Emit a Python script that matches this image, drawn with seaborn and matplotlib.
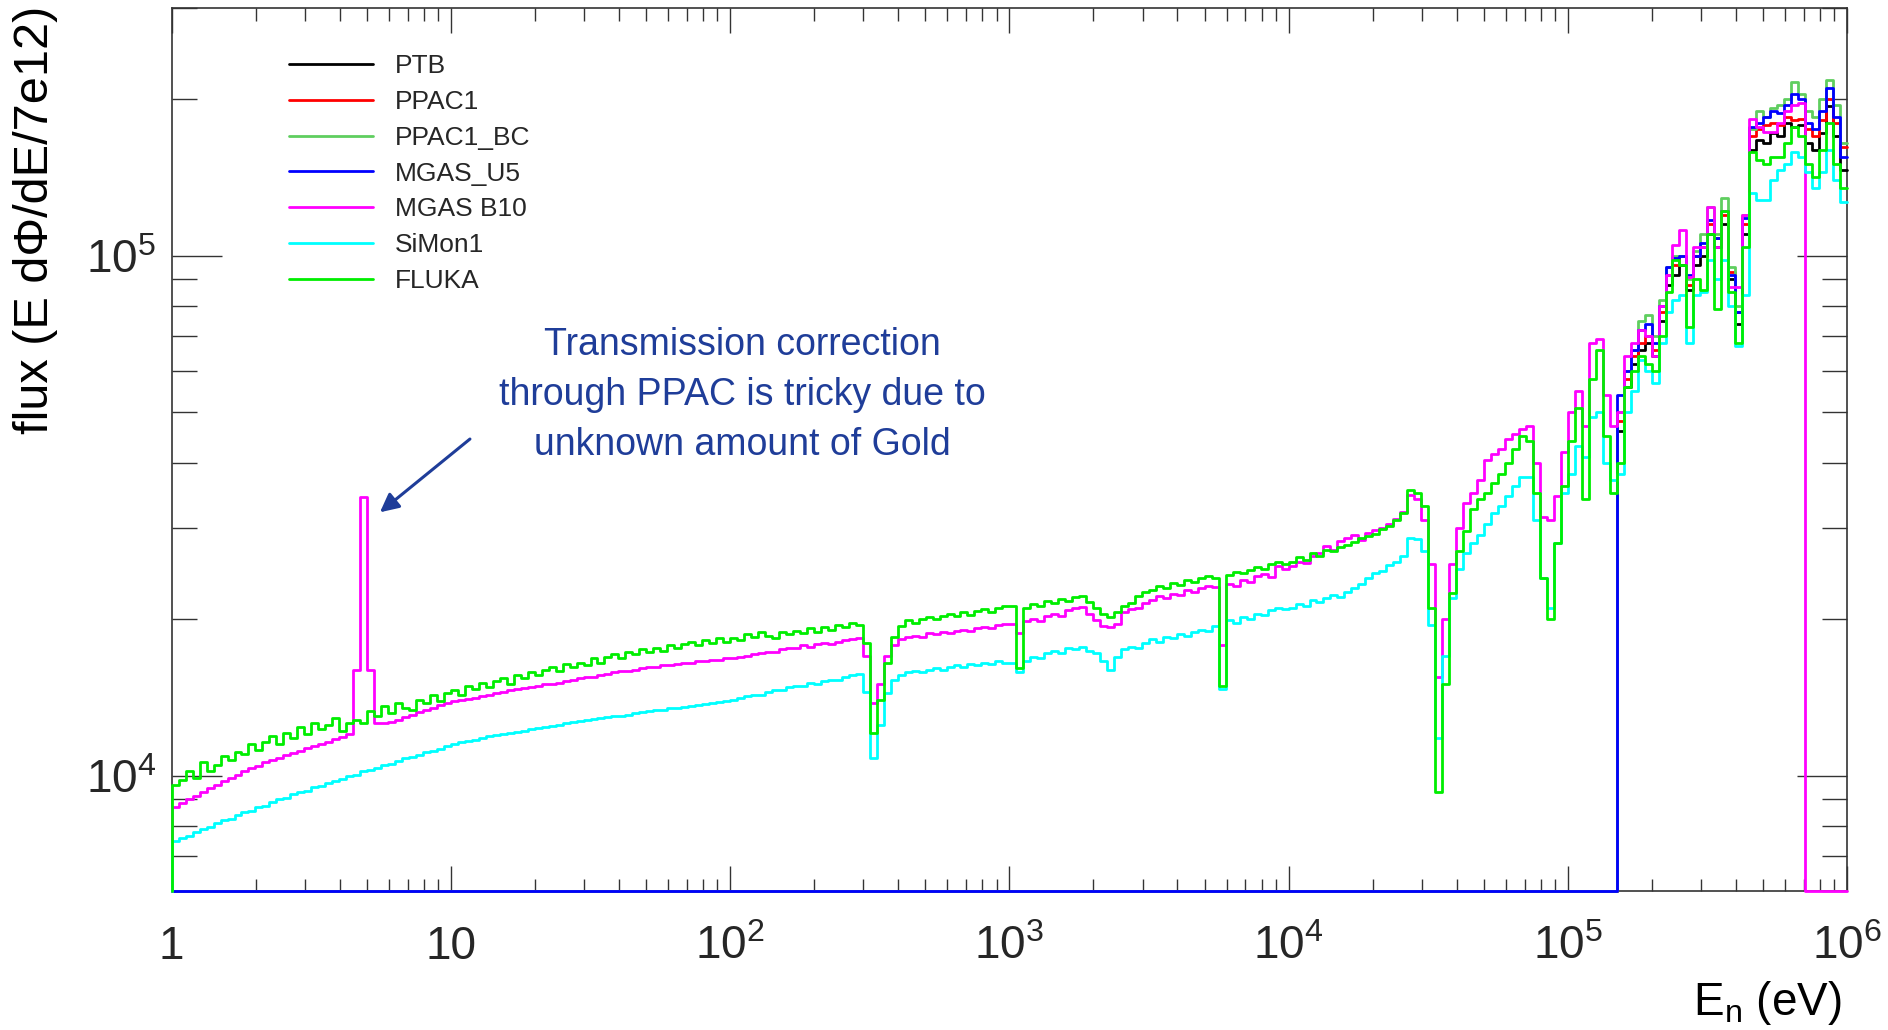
import numpy as np
import pandas as pd
import matplotlib
matplotlib.use("Agg")
import matplotlib.pyplot as plt
from matplotlib.lines import Line2D
from matplotlib.ticker import LogLocator, NullFormatter
import seaborn as sns

# ------------------------------------------------------------------
# Data: flux (E dPhi/dE / 7e12) in units of 1e3, histogram with
# 40 logarithmic bins per decade from 1 eV to 1 MeV (240 bins)
# ------------------------------------------------------------------
energy_min_eV = 1.0
energy_max_eV = 1.0e6
bins_per_decade = 40
flux_unit = 1.0e3

fluka = [
    9.6, 9.8, 10.2, 9.9, 10.6, 10.2, 10.5, 10.9, 10.7, 11.1,
    11.0, 11.5, 11.2, 11.6, 11.9, 11.5, 12.1, 11.8, 12.4, 12.0,
    12.6, 12.3, 12.5, 12.9, 12.2, 12.6, 12.8, 12.6, 13.3, 13.0,
    13.6, 13.2, 13.8, 13.5, 13.4, 14.0, 13.8, 14.3, 13.9, 14.4,
    14.6, 14.3, 14.9, 14.7, 15.1, 14.8, 15.2, 15.4, 15.0, 15.6,
    15.4, 15.8, 15.6, 16.0, 16.2, 15.9, 16.4, 16.2, 16.5, 16.3,
    16.8, 16.5, 16.9, 17.1, 16.8, 17.3, 17.1, 17.5, 17.3, 17.6,
    17.4, 17.8, 17.6, 17.9, 18.1, 17.8, 18.2, 18.0, 18.4, 18.1,
    18.4, 18.2, 18.7, 18.5, 18.9, 18.6, 18.4, 18.9, 18.7, 19.0,
    18.8, 19.2, 18.9, 19.3, 19.1, 19.5, 19.3, 19.7, 19.5, 18.0,
    12.1, 14.0, 16.5, 18.5, 19.4, 19.9, 19.7, 20.0, 20.2, 20.0,
    20.3, 20.5, 20.3, 20.6, 20.4, 20.7, 20.9, 20.6, 21.0, 21.2,
    21.2, 16.1, 21.0, 21.4, 21.2, 21.7, 21.5, 21.9, 21.7, 22.1,
    22.2, 21.6, 21.0, 20.5, 20.2, 20.6, 21.2, 21.5, 22.2, 22.6,
    22.8, 23.2, 23.0, 23.5, 23.3, 23.8, 23.6, 24.0, 24.2, 24.0,
    14.9, 24.3, 24.6, 24.5, 24.9, 25.2, 25.0, 25.5, 25.7, 25.5,
    25.8, 26.3, 26.0, 26.8, 26.5, 27.2, 27.0, 27.5, 27.8, 28.2,
    28.6, 28.9, 29.2, 29.8, 30.2, 31.0, 32.0, 35.5, 35.0, 33.0,
    21.0, 9.3, 15.0, 22.5, 27.0, 29.5, 32.5, 34.0, 35.0, 36.5,
    38.0, 40.0, 42.5, 45.0, 44.0, 35.0, 24.0, 20.0, 28.0, 36.0,
    44, 51, 34, 58, 66, 45, 35, 40, 56, 60,
    64, 62, 60, 70, 85, 98, 96, 73, 90, 86,
    110, 79, 122, 85, 68, 104, 158, 153, 150, 155,
    155, 165, 177, 170, 150, 142, 160, 180, 150, 135,
]

mgas_b10 = [
    8.7, 8.85, 9.0, 9.15, 9.3, 9.45, 9.6, 9.75, 9.9, 10.05,
    10.2, 10.35, 10.45, 10.6, 10.7, 10.8, 10.95, 11.05, 11.15, 11.3,
    11.4, 11.5, 11.6, 11.75, 11.85, 12.0, 16.0, 34.3, 16.0, 12.6,
    12.6, 12.7, 12.8, 12.95, 13.1, 13.25, 13.4, 13.5, 13.65, 13.8,
    13.9, 14.0, 14.05, 14.1, 14.2, 14.3, 14.4, 14.5, 14.6, 14.7,
    14.75, 14.8, 14.9, 15.0, 15.0, 15.1, 15.2, 15.3, 15.4, 15.5,
    15.5, 15.6, 15.7, 15.8, 15.9, 15.9, 16.0, 16.1, 16.2, 16.2,
    16.3, 16.3, 16.4, 16.5, 16.5, 16.6, 16.6, 16.7, 16.7, 16.8,
    16.8, 16.9, 17.0, 17.1, 17.2, 17.3, 17.3, 17.5, 17.6, 17.6,
    17.8, 17.7, 17.9, 18.0, 17.9, 18.1, 18.2, 18.3, 18.4, 17.0,
    13.8, 15.0, 17.0, 17.8, 18.3, 18.5, 18.6, 18.5, 18.8, 18.7,
    18.9, 18.8, 19.0, 19.1, 19.0, 19.2, 19.3, 19.2, 19.5, 19.6,
    19.6, 18.8, 19.8, 20.0, 19.8, 20.3, 20.5, 20.3, 20.8, 21.0,
    21.1, 20.5, 19.9, 19.4, 19.3, 19.6, 20.6, 20.9, 21.0, 21.5,
    21.8, 22.2, 22.0, 22.4, 22.3, 22.8, 22.6, 23.0, 23.2, 23.1,
    17.8, 23.4, 23.2, 23.8, 23.6, 24.2, 24.4, 24.1, 25.3, 25.0,
    25.3, 25.8, 25.6, 26.5, 26.8, 27.6, 27.2, 28.3, 28.6, 29.0,
    28.4, 29.3, 29.7, 30.0, 30.5, 31.2, 32.2, 34.6, 34.0, 31.0,
    25.5, 15.5, 20.0, 25.5, 30.0, 33.5, 35.0, 37.0, 40.5, 41.5,
    42.5, 44.5, 45.5, 46.5, 47.0, 40.0, 31.5, 31.0, 34.5, 42.0,
    50, 55, 47, 68, 69, 54, 47, 50, 64, 68,
    72, 70, 64, 80, 92, 105, 112, 91, 104, 104,
    124, 104, 122, 87, 87, 120, 183, 177, 173, 173,
    180, 190, 195, 197, 0, 0, 0, 0, 0, 0,
]

simon1 = [
    7.5, 7.6, 7.65, 7.8, 7.9, 7.95, 8.1, 8.2, 8.25, 8.4,
    8.5, 8.55, 8.7, 8.75, 8.9, 9.0, 9.05, 9.2, 9.3, 9.35,
    9.5, 9.55, 9.7, 9.75, 9.85, 10.0, 10.05, 10.2, 10.25, 10.35,
    10.5, 10.55, 10.65, 10.8, 10.85, 10.95, 11.1, 11.15, 11.25, 11.4,
    11.5, 11.6, 11.65, 11.7, 11.8, 11.9, 11.95, 12.05, 12.1, 12.15,
    12.2, 12.3, 12.35, 12.4, 12.45, 12.5, 12.6, 12.7, 12.75, 12.8,
    12.85, 12.9, 12.95, 13.0, 13.05, 13.1, 13.2, 13.25, 13.3, 13.35,
    13.4, 13.5, 13.5, 13.55, 13.6, 13.7, 13.75, 13.8, 13.85, 13.9,
    14.0, 14.1, 14.2, 14.3, 14.3, 14.5, 14.6, 14.6, 14.8, 14.9,
    14.9, 15.1, 15.0, 15.2, 15.3, 15.3, 15.5, 15.6, 15.7, 14.5,
    10.8, 12.5, 14.4, 15.3, 15.6, 15.8, 15.9, 15.8, 16.0, 16.1,
    16.0, 16.2, 16.3, 16.2, 16.4, 16.3, 16.5, 16.4, 16.6, 16.5,
    16.5, 15.8, 16.6, 16.9, 16.8, 17.2, 17.4, 17.2, 17.6, 17.5,
    17.7, 17.4, 17.2, 16.6, 16.0, 16.9, 17.5, 17.7, 17.6, 18.0,
    18.3, 18.1, 18.5, 18.4, 18.7, 18.6, 18.9, 19.1, 19.0, 19.4,
    14.7, 19.9, 19.7, 20.2, 20.0, 20.5, 20.4, 20.8, 21.0, 20.9,
    21.0, 21.4, 21.2, 21.8, 21.6, 22.0, 22.3, 22.1, 22.6, 23.0,
    23.4, 24.0, 24.5, 24.8, 25.4, 25.8, 26.5, 28.6, 28.5, 27.0,
    19.5, 11.8, 17.0, 22.0, 25.0, 26.8, 28.0, 29.0, 30.5, 32.0,
    33.0, 34.5, 36.0, 37.5, 37.5, 31.0, 24.0, 21.0, 28.0, 35.0,
    38, 43, 41, 49, 50, 40, 37, 38, 50, 55,
    63, 60, 57, 68, 78, 82, 84, 68, 84, 85,
    98, 90, 98, 80, 67, 84, 132, 128, 128, 140,
    146, 150, 158, 155, 145, 135, 145, 160, 140, 127,
]

# detectors that only measure above ~1.5e5 eV (last 33 bins, zero below)
ptb_hi = [46, 56, 62, 66, 68, 64, 75, 88, 92, 96, 86, 96, 100, 110, 104, 115, 90,
          74, 110, 160, 167, 165, 172, 170, 180, 177, 178, 165, 160, 172, 194, 170, 146]
ppac1_hi = [48, 58, 64, 68, 70, 66, 78, 92, 96, 100, 88, 100, 104, 115, 108, 120, 93,
            78, 115, 170, 175, 178, 180, 178, 185, 182, 183, 175, 170, 182, 200, 180, 162]
ppac1_bc_hi = [50, 60, 66, 75, 77, 70, 82, 95, 100, 100, 90, 102, 110, 124, 110, 129, 95,
               80, 120, 175, 190, 185, 192, 195, 200, 216, 205, 190, 185, 200, 218, 195, 165]
mgas_u5_hi = [54, 60, 66, 72, 74, 68, 80, 95, 99, 100, 92, 100, 106, 117, 108, 122, 92,
              78, 118, 177, 180, 185, 190, 188, 195, 205, 200, 180, 175, 190, 210, 185, 155]

series_labels = ["PTB", "PPAC1", "PPAC1_BC", "MGAS_U5", "MGAS B10", "SiMon1", "FLUKA"]
series_colors = ["#000000", "#ff0000", "#5fce5f", "#0000ff", "#ff00ff", "#00ffff", "#00ee00"]

x_tick_values = [1, 10, 1e2, 1e3, 1e4, 1e5, 1e6]
x_tick_labels = ["1", "10", r"$10^{2}$", r"$10^{3}$", r"$10^{4}$", r"$10^{5}$", r"$10^{6}$"]
y_tick_values = [1e4, 1e5]
y_tick_labels = [r"$10^{4}$", r"$10^{5}$"]
y_limits = (6.0e3, 3.0e5)

annotation_text = "Transmission correction\nthrough PPAC is tricky due to\nunknown amount of Gold"
annotation_color = "#1f3d99"

# ------------------------------------------------------------------
sns.set_theme(style="ticks")
plt.rcParams["font.family"] = ["Liberation Sans", "DejaVu Sans"]
plt.rcParams["mathtext.fontset"] = "custom"
plt.rcParams["mathtext.rm"] = "Liberation Sans"
plt.rcParams["mathtext.it"] = "Liberation Sans:italic"
plt.rcParams["mathtext.bf"] = "Liberation Sans:bold"
plt.rcParams["mathtext.default"] = "regular"

n_bins = len(fluka)
edges = np.logspace(np.log10(energy_min_eV), np.log10(energy_max_eV), n_bins + 1)


def pad_low(hi):
    return [0.0] * (n_bins - len(hi)) + list(hi)


series_values = [pad_low(ptb_hi), pad_low(ppac1_hi), pad_low(ppac1_bc_hi),
                 pad_low(mgas_u5_hi), mgas_b10, simon1, fluka]

rows = []
for label, vals in zip(series_labels, series_values):
    v = np.maximum(np.asarray(vals, dtype=float) * flux_unit, y_limits[0])
    xs = np.concatenate([[edges[0]], edges])
    ys = np.concatenate([[y_limits[0]], v, [v[-1]]])
    for i, (x, y) in enumerate(zip(xs, ys)):
        rows.append({"E": x, "flux": y, "detector": label, "order": i})
df = pd.DataFrame(rows)

fig = plt.figure(figsize=(18.88, 10.30), dpi=100)
ax = fig.add_axes([0.09094, 0.13495, 0.88734, 0.85767])

for z, (label, color) in enumerate(zip(series_labels, series_colors)):
    sub = df[df["detector"] == label].sort_values("order")
    sns.lineplot(data=sub, x="E", y="flux", ax=ax, color=color, linewidth=2.0,
                 drawstyle="steps-post", estimator=None, sort=False, legend=False,
                 clip_on=False, zorder=3 + z)

ax.set_xscale("log")
ax.set_yscale("log")
ax.set_xlim(energy_min_eV, energy_max_eV)
ax.set_ylim(*y_limits)

ax.set_xticks(x_tick_values, labels=x_tick_labels)
ax.set_yticks(y_tick_values, labels=y_tick_labels)
ax.xaxis.set_minor_locator(LogLocator(base=10, subs=np.arange(2, 10), numticks=100))
ax.yaxis.set_minor_locator(LogLocator(base=10, subs=np.arange(2, 10), numticks=100))
ax.xaxis.set_minor_formatter(NullFormatter())
ax.yaxis.set_minor_formatter(NullFormatter())

tick_color = "#333333"
ax.tick_params(axis="x", which="major", direction="in", length=18, width=1.0,
               top=True, bottom=True, color=tick_color, labelsize=33, pad=49)
ax.tick_params(axis="x", which="minor", direction="in", length=9, width=1.0,
               top=True, bottom=True, color=tick_color)
ax.tick_params(axis="y", which="major", direction="in", length=36, width=1.0,
               left=True, right=True, color=tick_color, labelsize=33, pad=11)
ax.tick_params(axis="y", which="minor", direction="in", length=18, width=1.0,
               left=True, right=True, color=tick_color)
for t in ax.xaxis.get_major_ticks():
    t.label1.set_va("baseline")
for sp in ax.spines.values():
    sp.set_color(tick_color)
    sp.set_linewidth(1.2)
ax.set_xlabel("")
ax.set_ylabel("")

fig.text(0.019, 0.994, "flux (E d\u03a6/dE/7e12)", rotation=90, ha="center", va="top",
         fontsize=35, color="black")
fig.text(0.9756, 0.0146, r"E$_{n}$ (eV)", ha="right", va="baseline", fontsize=33,
         color="black")

handles = [Line2D([], [], color=c, linewidth=2.0) for c in series_colors]
ax.legend(handles, series_labels, loc="upper left",
          bbox_to_anchor=(289 / 1888, 1 - 54 / 1030), bbox_transform=fig.transFigure,
          frameon=False, fontsize=19, handlelength=3.2, handletextpad=0.8,
          labelspacing=0.45, borderpad=0, borderaxespad=0)

fig.text(742 / 1888, 1 - 395 / 1030, annotation_text, ha="center", va="center",
         multialignment="center", fontsize=27, color=annotation_color, linespacing=1.5)
ax.annotate("", xy=(5.57, 3.21e4), xycoords="data", xytext=(11.7, 4.44e4),
            textcoords="data",
            arrowprops=dict(arrowstyle="-|>", color=annotation_color, lw=2.2,
                            mutation_scale=28, shrinkA=0, shrinkB=0))

fig.savefig("out.png", dpi=100, facecolor="white")
